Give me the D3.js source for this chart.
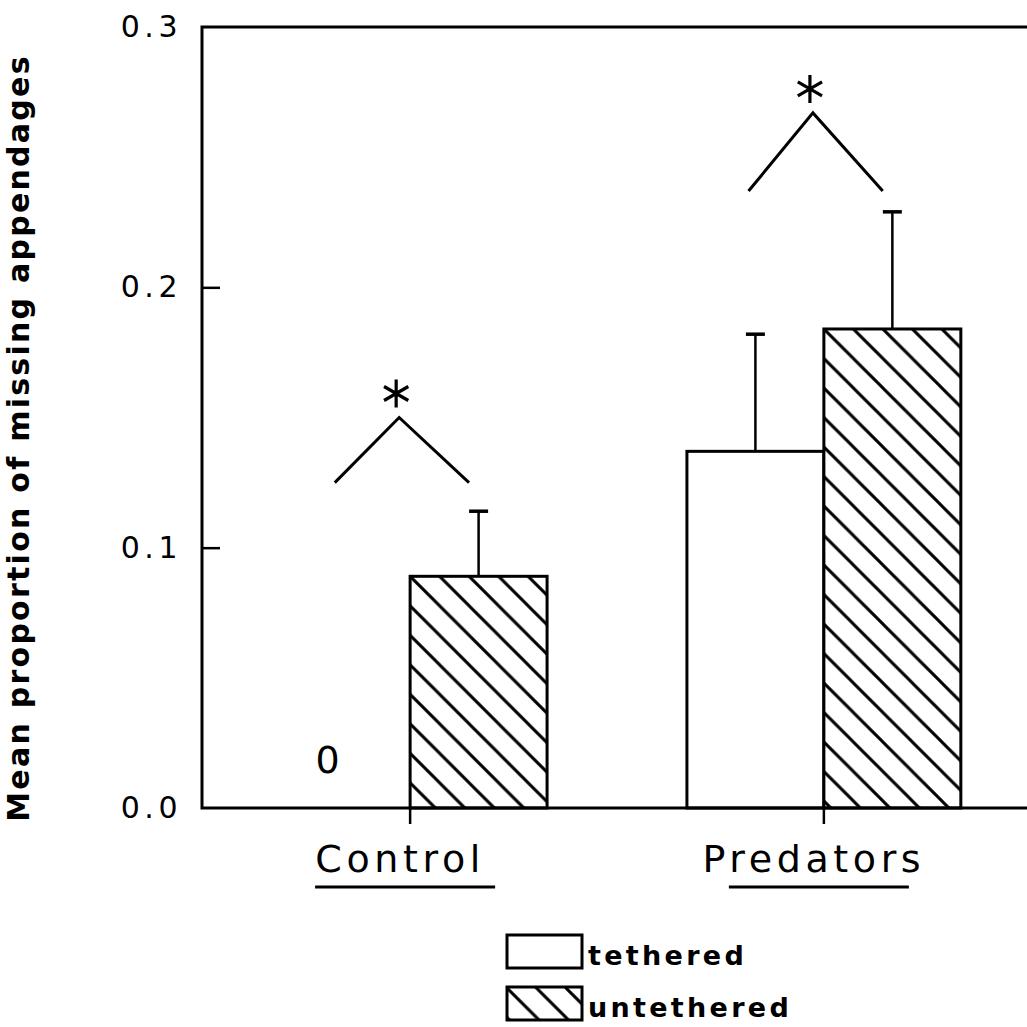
<!DOCTYPE html>
<html>
<head>
<meta charset="utf-8">
<script src="https://cdn.jsdelivr.net/npm/d3@7"></script>
<style>
  html, body { margin: 0; padding: 0; background: #fff; }
  svg { display: block; }
  text { font-family: "DejaVu Sans", sans-serif; fill: #000; }
</style>
</head>
<body>
<svg id="chart" width="1027" height="1027"></svg>
<script>
// Treatments and tether groups
const categories = ["Control", "Predators"];
const groups = ["tethered", "untethered"];

// Mean proportion of missing appendages and standard errors
const tetheredMean = [0.0, 0.137];
const untetheredMean = [0.089, 0.184];
const tetheredSE = [0.0, 0.045];
const untetheredSE = [0.025, 0.045];

// Significance brackets: end height and apex height per treatment
const bracketEnd = [0.125, 0.237];
const bracketApex = [0.150, 0.267];
const bracketMark = ["*", "*"];

// Y axis ticks
const yTicks = [0.0, 0.1, 0.2, 0.3];
const yTickLabels = ["0.0", "0.1", "0.2", "0.3"];
const yTitle = "Mean proportion of missing appendages";

(function () {
const W = 1027, H = 1027;
const mLeft = 202, mTop = 27, mBottom = 808, mRight = 1032;

const svg = d3.select("#chart");
svg.append("rect").attr("width", W).attr("height", H).attr("fill", "#fff");

const y = d3.scaleLinear().domain([0, 0.3]).range([mBottom, mTop]);
const x = d3.scaleBand().domain(categories).range([mLeft, mRight])
  .paddingInner(0.338).paddingOuter(0.172);
const xs = d3.scaleBand().domain(groups).range([0, x.bandwidth()]);
const bw = xs.bandwidth();

const rows = categories.map((c, i) => ({
  cat: c, i,
  bars: [
    { g: "tethered", mean: tetheredMean[i], se: tetheredSE[i] },
    { g: "untethered", mean: untetheredMean[i], se: untetheredSE[i] }
  ]
}));

// Diagonal "\" hatching anchored at a given corner
const defs = svg.append("defs");
const sp = 29.5;
function hatch(id, ox, oy) {
  const p = defs.append("pattern").attr("id", id)
    .attr("patternUnits", "userSpaceOnUse")
    .attr("width", sp).attr("height", sp)
    .attr("patternTransform", `translate(${ox},${oy})`);
  p.append("rect").attr("width", sp).attr("height", sp).attr("fill", "#fff");
  p.append("path")
    .attr("d", `M-2,-2L${sp + 2},${sp + 2}M${sp - 3},-3L${sp + 3},3M-3,${sp - 3}L3,${sp + 3}`)
    .attr("stroke", "#000").attr("stroke-width", 3).attr("fill", "none");
}

// Bars
const plot = svg.append("g");
rows.forEach(r => {
  r.bars.forEach(b => {
    const bx = x(r.cat) + xs(b.g);
    const by = y(b.mean);
    let fill = "#fff";
    if (b.g === "untethered") {
      const id = `hatch-${r.i}`;
      hatch(id, bx, by);
      fill = `url(#${id})`;
    }
    if (b.mean > 0) {
      plot.append("rect")
        .attr("x", bx).attr("y", by)
        .attr("width", bw).attr("height", y(0) - by)
        .attr("fill", fill).attr("stroke", "#000").attr("stroke-width", 3);
    } else {
      plot.append("text")
        .attr("x", bx + bw / 2 - 14).attr("y", y(0) - 35)
        .attr("text-anchor", "middle")
        .attr("font-size", 38)
        .text(d3.format(".0f")(b.mean));
    }
    if (b.se > 0) {
      const cx = bx + bw / 2;
      plot.append("line")
        .attr("x1", cx).attr("x2", cx)
        .attr("y1", by).attr("y2", y(b.mean + b.se))
        .attr("stroke", "#000").attr("stroke-width", 2.5);
      plot.append("line")
        .attr("x1", cx - 9.5).attr("x2", cx + 9.5)
        .attr("y1", y(b.mean + b.se)).attr("y2", y(b.mean + b.se))
        .attr("stroke", "#000").attr("stroke-width", 3.5);
    }
  });
});

// Frame: left axis, top line, baseline
const frame = svg.append("g").attr("stroke", "#000").attr("stroke-width", 3).attr("fill", "none");
frame.append("path").attr("d", `M${W},${y(0.3)}H${mLeft}V${y(0)}H${W}`).attr("stroke-linejoin", "miter");

// Y axis ticks (inward) and labels
const yAxis = d3.axisLeft(y).tickValues(yTicks)
  .tickFormat((d, i) => yTickLabels[i])
  .tickSizeInner(-18).tickSizeOuter(0).tickPadding(20);
const ya = svg.append("g").attr("transform", `translate(${mLeft},0)`).call(yAxis);
ya.select(".domain").remove();
ya.selectAll(".tick line").attr("stroke", "#000").attr("stroke-width", 2.5)
  .attr("display", d => (d === 0 || d === 0.3) ? "none" : null);
ya.selectAll(".tick text")
  .attr("font-family", "DejaVu Sans").attr("font-size", 30)
  .attr("letter-spacing", 4.5).attr("fill", "#000");

// Category ticks and labels
rows.forEach(r => {
  const cx = x(r.cat) + x.bandwidth() / 2;
  svg.append("line")
    .attr("x1", cx).attr("x2", cx).attr("y1", y(0)).attr("y2", y(0) + 16)
    .attr("stroke", "#000").attr("stroke-width", 2.5);
  svg.append("text")
    .attr("x", cx - 10).attr("y", 872)
    .attr("text-anchor", "middle")
    .attr("font-size", 38).attr("letter-spacing", 4.6)
    .text(r.cat);
  svg.append("line")
    .attr("x1", cx - 95).attr("x2", cx + 85).attr("y1", 887).attr("y2", 887)
    .attr("stroke", "#000").attr("stroke-width", 3);
});

// Significance brackets with asterisks
rows.forEach((r, i) => {
  const cx = x(r.cat) + x.bandwidth() / 2;
  const xl = cx - 0.55 * bw, xa = cx - 0.08 * bw, xr = cx + 0.43 * bw;
  svg.append("path")
    .attr("d", `M${xl},${y(bracketEnd[i])}L${xa},${y(bracketApex[i])}L${xr},${y(bracketEnd[i])}`)
    .attr("fill", "none").attr("stroke", "#000").attr("stroke-width", 3)
    .attr("stroke-linejoin", "miter");
  const ay = y(bracketApex[i]) - 24;
  const ax = xa - 3;
  const rr = 14, dx = rr * Math.cos(Math.PI / 6), dy = rr * Math.sin(Math.PI / 6);
  const g = svg.append("g").attr("class", "mark").attr("data-mark", bracketMark[i]);
  g.append("path")
    .attr("d", `M${ax},${ay - rr}V${ay + rr}M${ax - dx},${ay - dy}L${ax + dx},${ay + dy}M${ax - dx},${ay + dy}L${ax + dx},${ay - dy}`)
    .attr("stroke", "#000").attr("stroke-width", 3.2).attr("fill", "none");
});

// Y axis title
svg.append("text")
  .attr("transform", `translate(29,438) rotate(-90)`)
  .attr("text-anchor", "middle")
  .attr("font-size", 30).attr("font-weight", "bold").attr("letter-spacing", 2.25)
  .text(yTitle);

// Legend
const legend = svg.append("g");
hatch("hatch-legend", 507, 988);
groups.forEach((g, i) => {
  const ly = 935 + i * 52;
  legend.append("rect")
    .attr("x", 507).attr("y", ly).attr("width", 75).attr("height", 33)
    .attr("fill", g === "untethered" ? "url(#hatch-legend)" : "#fff")
    .attr("stroke", "#000").attr("stroke-width", 3);
  legend.append("text")
    .attr("x", 588).attr("y", ly + 30)
    .attr("font-size", 27).attr("font-weight", "bold").attr("letter-spacing", 3.3)
    .text(g);
});
})();
</script>
</body>
</html>
